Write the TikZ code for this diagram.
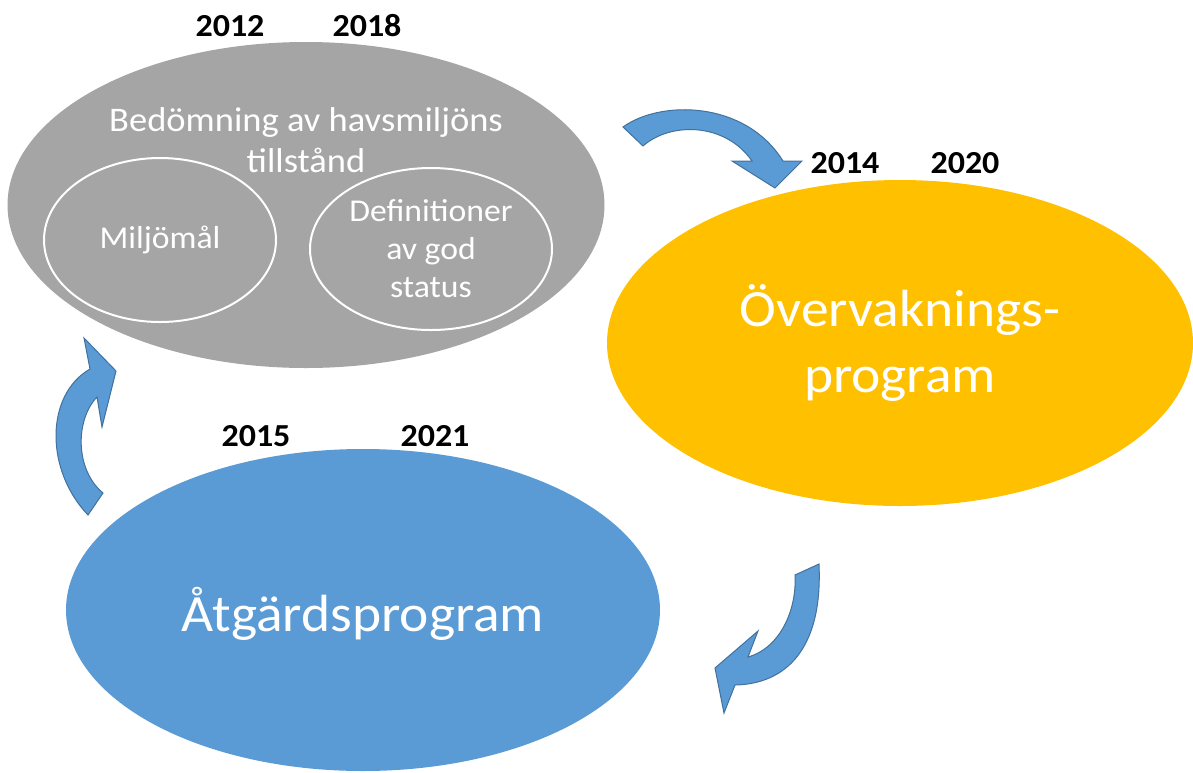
\documentclass[tikz,border=0pt]{standalone}
\usepackage{fontspec}
\setmainfont{Carlito}[FakeStretch=1.06]
\usepackage{tikz}
\usetikzlibrary{shapes.geometric}

\newlength\unitpx
\setlength\unitpx{0.025cm}

\definecolor{grayfill}{HTML}{A5A5A5}
\definecolor{goldfill}{HTML}{FFC000}
\definecolor{bluefill}{HTML}{5B9BD5}
\definecolor{blueline}{HTML}{41719C}

\tikzset{
  blob/.style={ellipse, inner sep=0pt, outer sep=0pt},
  inner blob/.style={blob, draw=white, line width=2\unitpx, text=white, align=center,
    font=\fontsize{22.6}{27}\selectfont},
  year/.style={font=\bfseries\fontsize{22.8}{27}\selectfont},
  bigtext/.style={text=white, align=center, font=\fontsize{37.2}{47}\selectfont},
  curved arrow/.style={fill=bluefill, draw=blueline, line width=1\unitpx, line join=miter}
}

\begin{document}
\begin{tikzpicture}[x=0.025cm, y=-0.025cm]
			\useasboundingbox (0,0) rectangle (1193,772);

			% draw big ellipses
			\node[blob, fill=grayfill, minimum width=597\unitpx, minimum height=326\unitpx] (bedomning) at (306,205) {};
			\node[blob, fill=goldfill, minimum width=586\unitpx, minimum height=326\unitpx] (overvakning) at (900,343) {};
			\node[blob, fill=bluefill, minimum width=594\unitpx, minimum height=322\unitpx] (atgard) at (363,610) {};

			% draw inner ellipses
			\node[inner blob, minimum width=232\unitpx, minimum height=164\unitpx] (miljomal) at (160,240) {Miljömål};
			\node[inner blob, minimum width=242\unitpx, minimum height=162\unitpx] (definition) at (431,249) {Definitioner\\av god\\status};

			% draw texts
			\node[text=white, align=center, font=\fontsize{24.5}{29}\selectfont] (bedtext) at (306,140) {Bedömning av havsmiljöns\\tillstånd};
			\node[bigtext] (overtext) at (overvakning) {Övervaknings-\\program};
			\node[bigtext] (atgtext) at (363,614) {Åtgärdsprogram};

			% draw years
			\foreach \yr/\x/\y in {2012/230/26, 2018/367/26, 2014/845/163, 2020/965/163, 2015/256/436, 2021/435/436}
			\node[year] (y\yr) at (\x,\y) {\yr};

			% draw curved arrows
			\draw[curved arrow] (623,127) .. controls (660,100) and (745,100) .. (783,161)
				-- (802,161) -- (775,188) -- (732,161) -- (752,161)
				.. controls (725,122) and (670,122) .. (643,146) -- cycle;
			\draw[curved arrow] (819,564) -- (795,575) .. controls (797,610) and (780,648) .. (748,657)
				-- (758,631) -- (715,668) -- (724,713) -- (735,685)
				.. controls (785,684) and (823,650) .. (819,564) -- cycle;
			\draw[curved arrow] (88,515) .. controls (45,470) and (45,395) .. (90,369)
				-- (84,338) -- (116,371) -- (102,427) -- (97,397)
				.. controls (75,420) and (75,470) .. (103,493) -- cycle;
\end{tikzpicture}
\end{document}
